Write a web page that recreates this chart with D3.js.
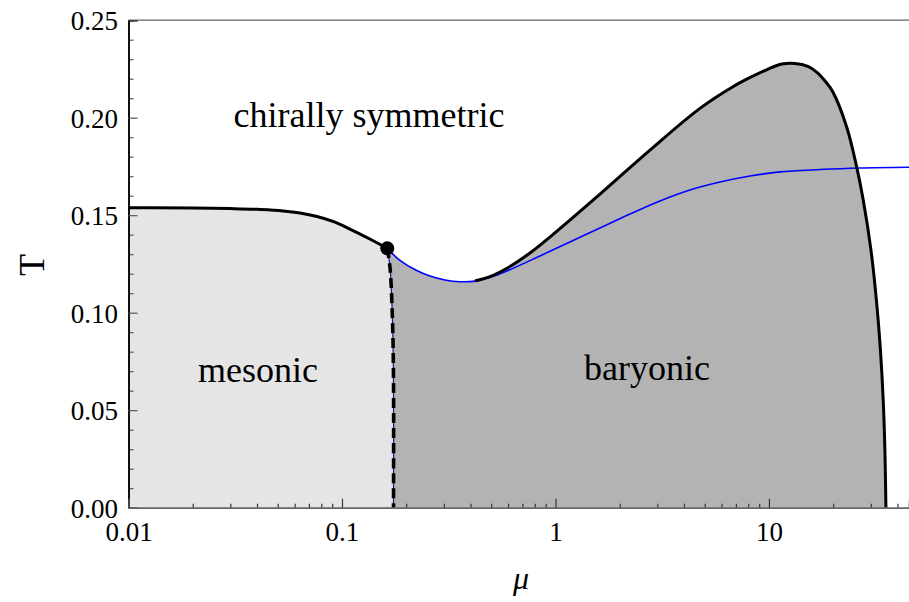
<!DOCTYPE html>
<html>
<head>
  <meta charset="UTF-8">
  <style>
    body { margin: 0; background: #fff; }
    svg text { font-family: "Liberation Serif", "DejaVu Serif", serif; fill: #000; }
  </style>
</head>
<body>
<svg width="909" height="602"></svg>
<script src="https://d3js.org/d3.v7.min.js"></script>
<script>
// chiral transition line (solid black), mu -> T
const chiralMu = [0.01, 0.0126, 0.02, 0.03, 0.04, 0.053, 0.0636, 0.0764, 0.0907, 0.109, 0.135, 0.163];
const chiralT  = [0.1538, 0.1538, 0.1537, 0.1534, 0.1530, 0.1522, 0.1511, 0.1493, 0.1468, 0.1429, 0.1378, 0.1330];

// baryon onset (dashed), from the critical point down to T = 0
const onsetMu = [0.163, 0.1678, 0.1724, 0.1743, 0.1743];
const onsetT  = [0.1330, 0.1234, 0.0963, 0.0655, 0.0];

// blue crossover curve
const blueMu = [0.163, 0.1869, 0.2238, 0.2584, 0.3037, 0.3570, 0.4198, 0.4933, 0.5925, 0.846, 1.169, 1.616, 2.234, 3.087, 4.266, 5.895, 8.147, 11.26, 17.34, 26.68, 45.3];
const blueT  = [0.1330, 0.1268, 0.1216, 0.1188, 0.1168, 0.1159, 0.1162, 0.1181, 0.1214, 0.1291, 0.1363, 0.1434, 0.1506, 0.1573, 0.1629, 0.1670, 0.1701, 0.1722, 0.1734, 0.1742, 0.1746];

// baryonic phase boundary (solid black)
const baryonMu = [0.4198, 0.4933, 0.5925, 0.7597, 0.942, 1.616, 2.771, 4.752, 6.78, 8.147, 9.79, 11.51, 13.24, 15.23, 16.73, 18.49, 19.94, 23.11, 25.75, 27.65, 30.05, 31.87, 33.28, 34.30, 34.93, 35.32];
const baryonT  = [0.1163, 0.1185, 0.1228, 0.1306, 0.1388, 0.1608, 0.1834, 0.2048, 0.2159, 0.2206, 0.2247, 0.2275, 0.2278, 0.2263, 0.2234, 0.2183, 0.2132, 0.1954, 0.1749, 0.1578, 0.1322, 0.1065, 0.0809, 0.0552, 0.0296, 0.0];

const critMu = 0.163, critT = 0.1330;

const xMajor = [0.01, 0.1, 1, 10];
const yMajor = [0, 0.05, 0.10, 0.15, 0.20, 0.25];

const svg = d3.select("svg");
const x = d3.scaleLog().domain([0.01, 45.3]).range([128.5, 909]);
const y = d3.scaleLinear().domain([0, 0.25]).range([507.7, 20.2]);

const pts = (mu, t) => mu.map((m, i) => [m, t[i]]);
const lineM = d3.line().x(d => x(d[0])).y(d => y(d[1])).curve(d3.curveMonotoneX);
const lineC = d3.line().x(d => x(d[0])).y(d => y(d[1])).curve(d3.curveCatmullRom.alpha(0.5));

// sample a drawn curve into pixel points so the fills follow the same lines
function sample(gen, data) {
  const p = svg.append("path").attr("d", gen(data));
  const node = p.node(), L = node.getTotalLength(), out = [];
  for (let i = 0; i <= 300; i++) {
    const q = node.getPointAtLength(L * i / 300);
    out.push([q.x, q.y]);
  }
  p.remove();
  return out;
}

const chiralPx = sample(lineM, pts(chiralMu, chiralT));
const onsetPx = sample(lineC, pts(onsetMu, onsetT));
const bluePx = sample(lineC, pts(blueMu, blueT));
const baryonPx = sample(lineC, pts(baryonMu, baryonT));

const poly = d3.line();
// mesonic region
svg.append("path")
  .attr("d", poly([[x(0.01), y(0)]].concat(chiralPx, onsetPx)) + "Z")
  .attr("fill", "#e5e5e5");

// baryonic region: onset up, blue to where the black line starts, then black
const blueLeft = bluePx.filter(p => p[0] < x(baryonMu[0]));
svg.append("path")
  .attr("d", poly(onsetPx.slice().reverse().concat(blueLeft, baryonPx)) + "Z")
  .attr("fill", "#b3b3b3");

// curves
svg.append("path").attr("d", lineC(pts(onsetMu, onsetT)))
  .attr("fill", "none").attr("stroke", "#1a1a8c").attr("stroke-width", 1.2);
svg.append("path").attr("d", lineC(pts(blueMu, blueT)))
  .attr("fill", "none").attr("stroke", "#0000ff").attr("stroke-width", 1.6);
svg.append("path").attr("d", lineM(pts(chiralMu, chiralT)))
  .attr("fill", "none").attr("stroke", "#000").attr("stroke-width", 3);
svg.append("path").attr("d", lineC(pts(baryonMu, baryonT)))
  .attr("fill", "none").attr("stroke", "#000").attr("stroke-width", 3);
svg.append("path").attr("d", lineC(pts(onsetMu, onsetT)))
  .attr("fill", "none").attr("stroke", "#000").attr("stroke-width", 3.6)
  .attr("stroke-dasharray", "10,5");
svg.append("circle").attr("cx", x(critMu)).attr("cy", y(critT)).attr("r", 7).attr("fill", "#000");

// top frame line
svg.append("line").attr("x1", 128.5).attr("x2", 909).attr("y1", y(0.25)).attr("y2", y(0.25))
  .attr("stroke", "#666").attr("stroke-width", 1.3);

// y axis
const yMinor = d3.range(0, 0.2501, 0.01).map(v => +v.toFixed(2)).filter(v => !yMajor.some(m => Math.abs(m - v) < 1e-9));
const gyMinor = svg.append("g").attr("transform", "translate(128.5,0)")
  .call(d3.axisLeft(y).tickValues(yMinor).tickSize(-5).tickFormat(""));
const gy = svg.append("g").attr("transform", "translate(128.5,0)")
  .call(d3.axisLeft(y).tickValues(yMajor).tickSize(-9).tickPadding(10.5).tickFormat(d3.format(".2f")));
gy.attr("font-family", "Liberation Serif").attr("font-size", 27);
gy.selectAll("text").attr("dy", "0.35em");
[gy, gyMinor].forEach(g => {
  g.select(".domain").attr("stroke", "#000").attr("stroke-width", 1.5);
  g.selectAll(".tick line").attr("stroke", "#555").attr("stroke-width", 1.2);
});

// x axis
const xMinor = [];
[0.01, 0.1, 1, 10].forEach(d => { for (let k = 2; k <= 9; k++) { const v = +(d * k).toPrecision(3); if (v <= 45.3) xMinor.push(v); } });
const gxMinor = svg.append("g").attr("transform", "translate(0,507.7)")
  .call(d3.axisBottom(x).tickValues(xMinor).tickSize(-4).tickFormat(""));
const gx = svg.append("g").attr("transform", "translate(0,507.7)")
  .call(d3.axisBottom(x).tickValues(xMajor).tickSize(-9).tickFormat(d => String(d)));
gx.attr("font-family", "Liberation Serif").attr("font-size", 27);
gx.selectAll("text").attr("y", 33).attr("dy", 0);
[gx, gxMinor].forEach(g => {
  g.select(".domain").attr("stroke", "#666").attr("stroke-width", 1.5);
  g.selectAll(".tick line").attr("stroke", "#333").attr("stroke-width", 1.2);
});

// region labels
const lab = (t, cx, by) => svg.append("text").attr("x", cx).attr("y", by)
  .attr("text-anchor", "middle").style("font-size", "36px").text(t);
lab("chirally symmetric", 369, 127);
lab("mesonic", 258, 382);
lab("baryonic", 647, 380);

// axis titles
svg.append("text").attr("transform", "translate(44,265) rotate(-90)")
  .attr("text-anchor", "middle").style("font-size", "36px").text("T");
svg.append("text").attr("x", 521).attr("y", 589).attr("text-anchor", "middle")
  .style("font-size", "32px").style("font-style", "italic").text("μ");
</script>
</body>
</html>
